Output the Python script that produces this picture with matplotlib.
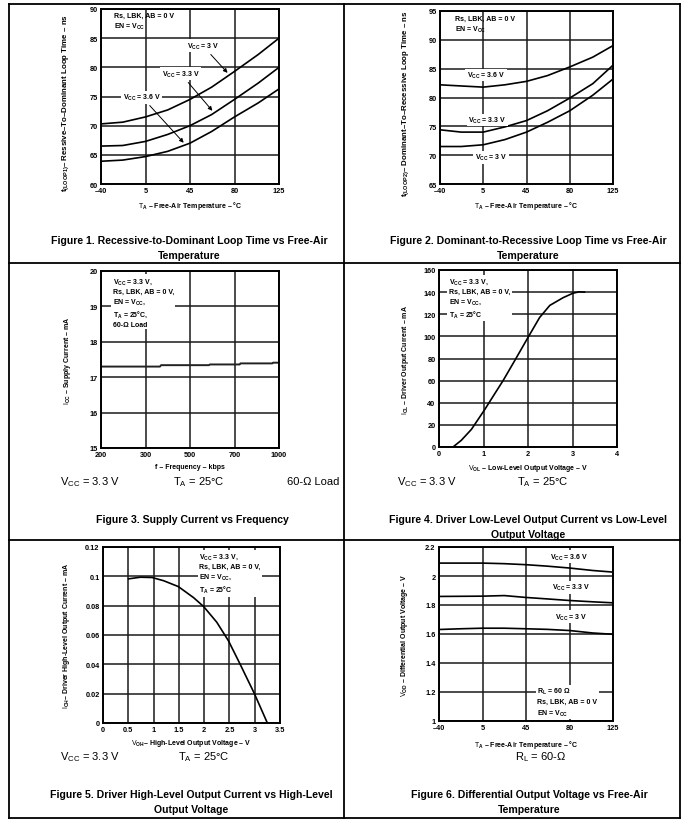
import numpy as np
import matplotlib
matplotlib.use('Agg')
import matplotlib.pyplot as plt

plt.rcParams['font.family'] = 'Liberation Sans'
plt.rcParams['mathtext.fontset'] = 'custom'
plt.rcParams['mathtext.rm'] = 'Liberation Sans'
plt.rcParams['mathtext.bf'] = 'Liberation Sans:bold'
plt.rcParams['mathtext.it'] = 'Liberation Sans:italic'
plt.rcParams['mathtext.default'] = 'bf'

# Figure 1 / 2 / 6 : temperature axes (evenly spaced ticks)
temp_ticks = [-40, 5, 45, 80, 125]
temp_labels = ['–40', '5', '45', '80', '125']
temps = [-40, -18, 5, 25, 45, 62, 80, 104, 125]

loop1_3v0 = [70.3, 70.6, 71.5, 72.7, 74.5, 76.6, 79.3, 82.2, 85.0]
loop1_3v3 = [66.5, 66.6, 67.3, 68.5, 70.0, 71.9, 74.5, 77.3, 80.0]
loop1_3v6 = [63.9, 64.1, 64.7, 65.6, 67.0, 69.0, 71.5, 73.9, 76.3]

loop2_3v6 = [82.2, 82.0, 81.8, 82.2, 82.8, 83.8, 85.3, 87.0, 89.0]
loop2_3v3 = [74.4, 74.0, 74.0, 74.9, 76.0, 77.7, 79.9, 82.4, 85.6]
loop2_3v0 = [71.5, 71.5, 71.8, 72.7, 74.0, 75.7, 77.7, 80.4, 83.2]

vod_3v6 = [2.089, 2.089, 2.089, 2.085, 2.078, 2.068, 2.055, 2.038, 2.027]
vod_3v3 = [1.859, 1.860, 1.861, 1.865, 1.852, 1.842, 1.831, 1.822, 1.815]
vod_3v0 = [1.631, 1.636, 1.640, 1.640, 1.636, 1.632, 1.624, 1.607, 1.598]

# Figure 3 : supply current vs frequency
freq_ticks = [200, 300, 500, 700, 1000]
freq = [200, 365, 370, 585, 590, 735, 740, 955, 960, 1000]
icc = [17.30, 17.30, 17.34, 17.34, 17.36, 17.36, 17.39, 17.39, 17.41, 17.41]

# Figure 4 : IOL vs VOL
vol = [0.315, 0.5, 0.73, 1.03, 1.25, 1.44, 1.70, 2.0, 2.26, 2.49, 2.79, 3.01, 3.15, 3.27]
iol = [0, 6, 16, 34, 48, 60, 78, 99, 117, 128, 135, 139, 140.3, 140]

# Figure 5 : IOH vs VOH
voh = [0.507, 0.74, 0.97, 1.2, 1.49, 1.79, 1.99, 2.25, 2.48, 2.71, 2.99, 3.25]
ioh = [0.0983, 0.0994, 0.0992, 0.097, 0.093, 0.0855, 0.0794, 0.0687, 0.0561, 0.0402, 0.0203, 0.0]

W, H = 689, 828
fig = plt.figure(figsize=(W / 100, H / 100), dpi=100)

bg = fig.add_axes([0, 0, 1, 1])
bg.set_xlim(0, W)
bg.set_ylim(H, 0)
bg.axis('off')

# table lines
for y in [4.5, 264, 541, 819]:
    bg.plot([9, 680], [y, y], color='black', lw=1.3)
for x in [9, 344, 680]:
    bg.plot([x, x], [4.5, 819], color='black', lw=1.3)

tick_kw = dict(fontsize=5.3, fontweight='bold')
lab_kw = dict(fontsize=5, fontweight='bold')
note_kw = dict(fontsize=5, fontweight='bold', va='top', ha='left', linespacing=1.35)
box = dict(facecolor='white', edgecolor='none', pad=1)


def make_ax(l, t, r, b):
    ax = fig.add_axes([l / W, 1 - b / H, (r - l) / W, (b - t) / H])
    for s in ax.spines.values():
        s.set_linewidth(1.4)
    ax.tick_params(length=0, pad=2.5)
    ax.grid(True, color='#1a1a1a', lw=1.1)
    ax.set_axisbelow(True)
    return ax


def tpos(t):
    return np.interp(t, temp_ticks, range(5))


def finish(ax, xt, xl, yt, yl, xlabel, ylabel, xlc, ylc, ysize=5, ymid=0.5):
    ax.set_xticks(xt)
    ax.set_xticklabels(xl, **tick_kw)
    ax.set_yticks(yt)
    ax.set_yticklabels(yl, **tick_kw)
    ax.set_xlabel(xlabel, **lab_kw)
    ax.set_ylabel(ylabel, fontsize=ysize, fontweight='bold')
    ax.xaxis.set_label_coords(0.5, xlc)
    ax.yaxis.set_label_coords(ylc, ymid)


ta_label = r'$\mathrm{T}_{A}$ – Free-Air Temperature – °C'

# ---- Figure 1
ax1 = make_ax(101, 10, 279, 185)
ax1.plot(tpos(temps), loop1_3v0, color='black', lw=1.2)
ax1.plot(tpos(temps), loop1_3v3, color='black', lw=1.2)
ax1.plot(tpos(temps), loop1_3v6, color='black', lw=1.2)
ax1.set_xlim(0, 4)
ax1.set_ylim(60, 90)
finish(ax1, range(5), temp_labels, range(60, 91, 5), [str(v) for v in range(60, 91, 5)],
       ta_label, r'$t_{(LOOP1)}$– Ressive–To–Dominant Loop Time – ns', -0.086, -0.17, ysize=5.7, ymid=0.47)
ax1.text(0.075, 0.985, 'Rs, LBK, AB = 0 V\nEN = V$_{CC}$', transform=ax1.transAxes, **note_kw)
arrow = dict(arrowstyle='-|>', color='black', lw=0.7, mutation_scale=6)
for lab, curve, t_tip, pos in [('V$_{CC}$ = 3 V', loop1_3v0, 76, (0.573, 0.789)),
                               ('V$_{CC}$ = 3.3 V', loop1_3v3, 64, (0.449, 0.629)),
                               ('V$_{CC}$ = 3.6 V', loop1_3v6, 41, (0.23, 0.497))]:
    ax1.annotate(lab, xy=(tpos(t_tip), np.interp(t_tip, temps, curve)), xycoords='data',
                 xytext=pos, textcoords='axes fraction', ha='center', va='center',
                 fontsize=5, fontweight='bold', bbox=box, arrowprops=arrow)

# ---- Figure 2
ax2 = make_ax(440, 12, 613, 185)
ax2.plot(tpos(temps), loop2_3v6, color='black', lw=1.2)
ax2.plot(tpos(temps), loop2_3v3, color='black', lw=1.2)
ax2.plot(tpos(temps), loop2_3v0, color='black', lw=1.2)
ax2.set_xlim(0, 4)
ax2.set_ylim(65, 95)
finish(ax2, range(5), temp_labels, range(65, 96, 5), [str(v) for v in range(65, 96, 5)],
       ta_label, r'$t_{(LOOP2)}$– Dominant–To–Recessive Loop Time – ns', -0.086, -0.17, ysize=5.7, ymid=0.47)
ax2.text(0.085, 0.98, 'Rs, LBK, AB = 0 V\nEN = V$_{CC}$', transform=ax2.transAxes, **note_kw)
for lab, pos in [('V$_{CC}$ = 3.6 V', (0.266, 0.63)), ('V$_{CC}$ = 3.3 V', (0.272, 0.37)),
                 ('V$_{CC}$ = 3 V', (0.295, 0.156))]:
    ax2.text(pos[0], pos[1], lab, transform=ax2.transAxes, ha='center', va='center',
             fontsize=5, fontweight='bold', bbox=box)

# ---- Figure 3
ax3 = make_ax(101, 272, 279, 449)
ax3.plot(np.interp(freq, freq_ticks, range(5)), icc, color='#222222', lw=1.4)
ax3.set_xlim(0, 4)
ax3.set_ylim(15, 20)
finish(ax3, range(5), [str(v) for v in freq_ticks], range(15, 21), [str(v) for v in range(15, 21)],
       'f – Frequency – kbps', r'$\mathrm{I}_{CC}$ – Supply Current – mA', -0.085, -0.16)
ax3.text(0.065, 0.97, 'V$_{CC}$ = 3.3 V,\nRs, LBK, AB = 0 V,\nEN = V$_{CC}$,\nT$_{A}$ = 25°C,\n60-Ω Load',
         transform=ax3.transAxes, bbox=box, **note_kw)

# ---- Figure 4
ax4 = make_ax(439, 271, 617, 448)
ax4.plot(vol, iol, color='black', lw=1.2)
ax4.set_xlim(0, 4)
ax4.set_ylim(0, 160)
finish(ax4, range(5), [str(v) for v in range(5)], range(0, 161, 20), [str(v) for v in range(0, 161, 20)],
       r'$\mathrm{V}_{OL}$ – Low-Level Output Voltage – V', r'$\mathrm{I}_{OL}$ – Driver Output Current – mA',
       -0.085, -0.16)
ax4.text(0.055, 0.965, 'V$_{CC}$ = 3.3 V,\nRs, LBK, AB = 0 V,\nEN = V$_{CC}$,\nT$_{A}$ = 25°C',
         transform=ax4.transAxes, bbox=box, **note_kw)

# ---- Figure 5
ax5 = make_ax(103, 548, 280, 724)
ax5.plot(voh, ioh, color='black', lw=1.2)
ax5.set_xlim(0, 3.5)
ax5.set_ylim(0, 0.12)
xt5 = [0, 0.5, 1, 1.5, 2, 2.5, 3, 3.5]
yt5 = [0, 0.02, 0.04, 0.06, 0.08, 0.1, 0.12]
finish(ax5, xt5, ['%g' % v for v in xt5], yt5, ['%g' % v for v in yt5],
       r'$\mathrm{V}_{OH}$– High-Level Output Voltage – V', r'$\mathrm{I}_{OH}$– Driver High-Level Output Current – mA',
       -0.08, -0.175)
ax5.text(0.545, 0.975, 'V$_{CC}$ = 3.3 V,\nRs, LBK, AB = 0 V,\nEN = V$_{CC}$,\nT$_{A}$ = 25°C',
         transform=ax5.transAxes, bbox=box, **note_kw)

# ---- Figure 6
ax6 = make_ax(439, 548, 613, 722)
ax6.plot(tpos(temps), vod_3v6, color='black', lw=1.2)
ax6.plot(tpos(temps), vod_3v3, color='black', lw=1.2)
ax6.plot(tpos(temps), vod_3v0, color='black', lw=1.2)
ax6.set_xlim(0, 4)
ax6.set_ylim(1, 2.2)
yt6 = [1, 1.2, 1.4, 1.6, 1.8, 2, 2.2]
finish(ax6, range(5), temp_labels, yt6, ['%g' % v for v in yt6],
       ta_label, r'$\mathrm{V}_{OD}$ – Differential Output Voltage – V', -0.098, -0.165)
for lab, pos in [('V$_{CC}$ = 3.6 V', (0.747, 0.943)), ('V$_{CC}$ = 3.3 V', (0.759, 0.77)),
                 ('V$_{CC}$ = 3 V', (0.759, 0.598))]:
    ax6.text(pos[0], pos[1], lab, transform=ax6.transAxes, ha='center', va='center',
             fontsize=5, fontweight='bold', bbox=box)
ax6.text(0.565, 0.2, 'R$_{L}$ = 60 Ω\nRs, LBK, AB = 0 V\nEN = V$_{CC}$',
         transform=ax6.transAxes, bbox=box, **note_kw)

# ---- condition rows
row_kw = dict(fontsize=8, va='center', ha='left')
bg.text(60, 482, r'V$_\mathrm{CC}$ = 3.3 V', **row_kw)
bg.text(173, 482, r'T$_\mathrm{A}$ = 25°C', **row_kw)
bg.text(287, 482, '60-Ω Load', **row_kw)
bg.text(397, 482, r'V$_\mathrm{CC}$ = 3.3 V', **row_kw)
bg.text(517, 482, r'T$_\mathrm{A}$ = 25°C', **row_kw)
bg.text(60, 757, r'V$_\mathrm{CC}$ = 3.3 V', **row_kw)
bg.text(178, 757, r'T$_\mathrm{A}$ = 25°C', **row_kw)
bg.text(515, 757, r'R$_\mathrm{L}$ = 60-Ω', **row_kw)

# ---- captions
cap_kw = dict(fontsize=7.6, fontweight='bold', ha='center', va='center', linespacing=1.65)
bg.text(189, 248.5, 'Figure 1. Recessive-to-Dominant Loop Time vs Free-Air\nTemperature', **cap_kw)
bg.text(528, 248.5, 'Figure 2. Dominant-to-Recessive Loop Time vs Free-Air\nTemperature', **cap_kw)
bg.text(192, 520, 'Figure 3. Supply Current vs Frequency', **cap_kw)
bg.text(528, 527.5, 'Figure 4. Driver Low-Level Output Current vs Low-Level\nOutput Voltage', **cap_kw)
bg.text(191, 802.5, 'Figure 5. Driver High-Level Output Current vs High-Level\nOutput Voltage', **cap_kw)
bg.text(529, 802.5, 'Figure 6. Differential Output Voltage vs Free-Air\nTemperature', **cap_kw)

fig.savefig('out.png', dpi=100)
